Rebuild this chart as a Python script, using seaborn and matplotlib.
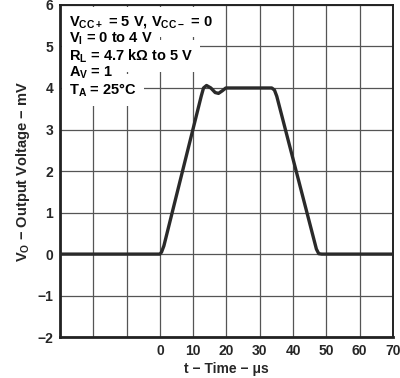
import numpy as np
import pandas as pd
import seaborn as sns
import matplotlib.pyplot as plt

# waveform (t in us, Vo in mV)
time_us = [-30, 0, 0.5, 1.2, 12.4, 13.1, 14.0, 15.3, 16.6, 17.6, 18.7, 19.8, 20.6,
           33.6, 34.4, 35.1, 47.0, 47.7, 48.6, 70]
vout_mv = [0, 0, 0.05, 0.2, 3.8, 4.0, 4.06, 4.0, 3.89, 3.87, 3.93, 4.0, 4.0,
           4.0, 3.95, 3.8, 0.12, 0.01, 0, 0]

x_ticks = [-30, -20, -10, 0, 10, 20, 30, 40, 50, 60, 70]
x_labels = ["", "", "", "0", "10", "20", "30", "40", "50", "60", "70"]
y_ticks = [-2, -1, 0, 1, 2, 3, 4, 5, 6]
y_labels = ["\u22122", "\u22121", "0", "1", "2", "3", "4", "5", "6"]

conditions = [
    "V$_{CC+}$ = 5 V, V$_{CC\u2212}$ = 0",
    "V$_I$ = 0 to 4 V",
    "R$_L$ = 4.7 k\u03a9 to 5 V",
    "A$_V$ = 1",
    "T$_A$ = 25\u00b0C",
]

sns.set_style("white")
plt.rcParams["font.family"] = ["Liberation Sans", "DejaVu Sans"]
plt.rcParams["font.weight"] = "bold"
plt.rcParams["mathtext.default"] = "regular"

df = pd.DataFrame({"t": time_us, "v": vout_mv})

fig = plt.figure(figsize=(4.0, 3.78), dpi=100)
ax = fig.add_axes([0.15, 0.108, 0.8325, 0.879])

ax.set_xticks(x_ticks)
ax.set_xticklabels(x_labels)
ax.set_yticks(y_ticks)
ax.set_yticklabels(y_labels)
ax.grid(True, color="#555555", linewidth=0.9)
ax.set_axisbelow(True)

sns.lineplot(data=df, x="t", y="v", ax=ax, color="#2a2a2a", linewidth=2.4,
             zorder=5)

ax.set_xlim(-30, 70)
ax.set_ylim(-2, 6)
ax.tick_params(axis="both", length=0, labelsize=10, pad=5)
for lab in ax.get_xticklabels() + ax.get_yticklabels():
    lab.set_fontweight("bold")
for s in ax.spines.values():
    s.set_color("#222222")
    s.set_linewidth(1.4)
ax.spines["left"].set_linewidth(2.0)
ax.spines["bottom"].set_linewidth(2.0)

ax.set_xlabel("t \u2212 Time \u2212 \u03bcs", fontsize=10, fontweight="bold", labelpad=3)
ax.set_ylabel("V$_O$ \u2212 Output Voltage \u2212 mV", fontsize=10.5, fontweight="bold",
              labelpad=4)

# condition block: white patches first (hide the grid), then the text on top
line_px = [22, 39, 56, 73, 90]
for txt, py in zip(conditions, line_px):
    yy = 1 - (py - 5) / 332
    ax.text(0.028, yy, txt, transform=ax.transAxes, fontsize=10.5,
            fontweight="bold", va="center", ha="left", zorder=5.5, color="none",
            bbox=dict(facecolor="white", edgecolor="none", pad=5))
    ax.text(0.028, yy, txt, transform=ax.transAxes, fontsize=10.5,
            fontweight="bold", va="center", ha="left", zorder=6, color="black")

fig.savefig("out.png", dpi=100)
